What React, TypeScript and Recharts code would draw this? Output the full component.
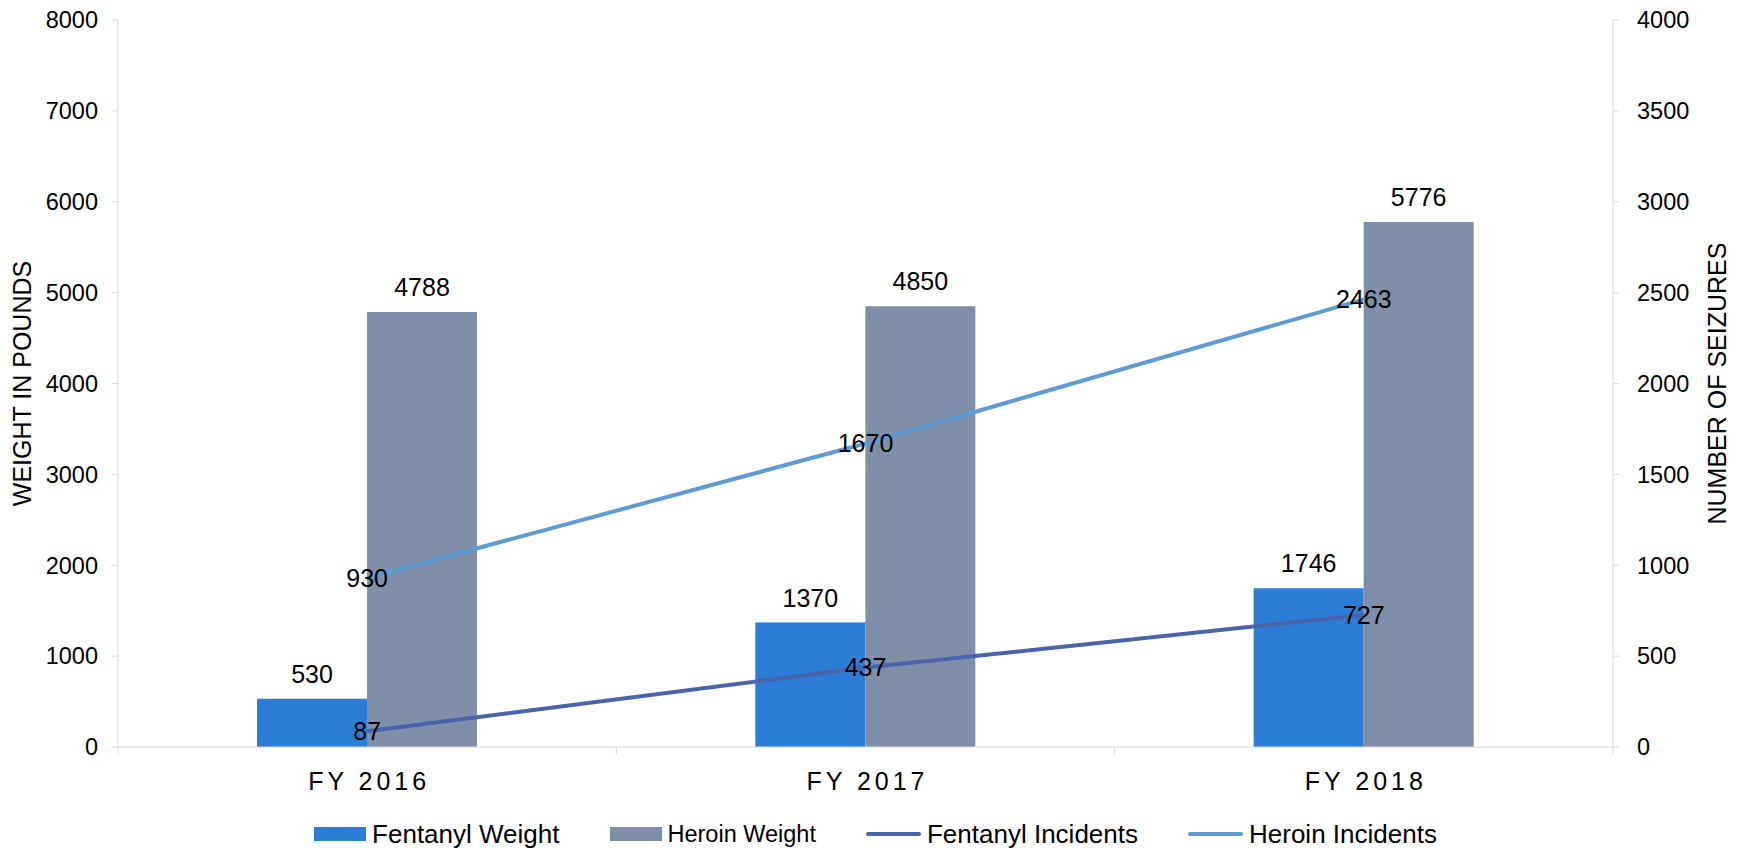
import React from 'react';
import { ComposedChart, Bar, Line, XAxis, YAxis, Legend, LabelList } from 'recharts';

const categories = ['FY 2016', 'FY 2017', 'FY 2018'];
const fentanylWeight = [530, 1370, 1746];
const heroinWeight = [4788, 4850, 5776];
const fentanylIncidents = [87, 437, 727];
const heroinIncidents = [930, 1670, 2463];
const leftTicks = [0, 1000, 2000, 3000, 4000, 5000, 6000, 7000, 8000];
const rightTicks = [0, 500, 1000, 1500, 2000, 2500, 3000, 3500, 4000];

const seriesNames = ['Fentanyl Weight', 'Heroin Weight', 'Fentanyl Incidents', 'Heroin Incidents'];
const seriesColors = ['#2B7DD6', '#7F8FA9', '#4964AB', '#5E9BD3'];
const seriesKinds = ['rect', 'rect', 'line', 'line'];
const legendFontSizes = [26, 23.5, 26, 26];

const data = categories.map((c, i) => ({
  name: c,
  fw: fentanylWeight[i],
  hw: heroinWeight[i],
  fi: fentanylIncidents[i],
  hi: heroinIncidents[i],
}));

const FONT = '"Liberation Sans", Arial, sans-serif';
const NARROW = '"Liberation Sans Narrow", "Arial Narrow", "Liberation Sans", sans-serif';
const AXIS = '#D9D9D9';

const XTick = (props: any) => {
  const { x, y, payload, index, visibleTicksCount } = props;
  const off = payload && payload.offset != null ? payload.offset : 249;
  const axisY = y - 7;
  return (
    <g>
      <line x1={x - off} x2={x - off} y1={axisY} y2={axisY + 7} stroke={AXIS} strokeWidth={1} />
      {index === visibleTicksCount - 1 && (
        <line x1={x + off} x2={x + off} y1={axisY} y2={axisY + 7} stroke={AXIS} strokeWidth={1} />
      )}
      <text x={x + 2} y={axisY + 43} textAnchor="middle" fontSize={25} letterSpacing={4} fill="#000" fontFamily={FONT}>
        {payload.value}
      </text>
    </g>
  );
};

const LegendContent = () => (
  <div
    style={{
      width: 1743,
      height: 40,
      boxSizing: 'border-box',
      paddingTop: 12,
      paddingLeft: 8,
      display: 'flex',
      alignItems: 'center',
      justifyContent: 'center',
      fontFamily: FONT,
      color: '#000',
    }}
  >
    {seriesNames.map((n, i) => (
      <div key={n} style={{ display: 'flex', alignItems: 'center', marginRight: i < seriesNames.length - 1 ? 50 : 0 }}>
        {seriesKinds[i] === 'rect' ? (
          <div style={{ width: 52, height: 14, background: seriesColors[i] }} />
        ) : (
          <div style={{ width: 55, height: 4, borderRadius: 2, background: seriesColors[i] }} />
        )}
        <span style={{ marginLeft: 6, fontSize: legendFontSizes[i], lineHeight: '28px', whiteSpace: 'nowrap' }}>{n}</span>
      </div>
    ))}
  </div>
);

export default function App() {
  return (
    <div style={{ position: 'absolute', left: 0, top: 0, width: 1743, height: 848, background: '#fff', fontFamily: FONT }}>
      <ComposedChart width={1743} height={848} data={data} margin={{ top: 20, right: 0, bottom: 0, left: 0 }} barGap={0}>
        <XAxis
          dataKey="name"
          xAxisId="x"
          height={61}
          tickSize={7}
          tickMargin={0}
          tickLine={false}
          axisLine={{ stroke: AXIS, strokeWidth: 1 }}
          tick={<XTick />}
          interval={0}
        />
        <YAxis
          yAxisId="left"
          orientation="left"
          width={118}
          domain={[0, 8000]}
          ticks={leftTicks}
          interval={0}
          tickSize={6}
          tickMargin={14}
          axisLine={{ stroke: AXIS, strokeWidth: 1 }}
          tickLine={{ stroke: AXIS, strokeWidth: 1 }}
          tick={{ fontSize: 23.5, fill: '#000', fontFamily: FONT }}
          label={{
            value: 'WEIGHT IN POUNDS',
            angle: -90,
            position: 'center',
            dx: -37,
            style: { fontSize: 25, fill: '#000', fontFamily: NARROW, textAnchor: 'middle' },
          }}
        />
        <YAxis
          yAxisId="right"
          orientation="right"
          width={130}
          domain={[0, 4000]}
          ticks={rightTicks}
          interval={0}
          tickSize={6}
          tickMargin={18}
          axisLine={{ stroke: AXIS, strokeWidth: 1 }}
          tickLine={{ stroke: AXIS, strokeWidth: 1 }}
          tick={{ fontSize: 23.5, fill: '#000', fontFamily: FONT }}
          label={{
            value: 'NUMBER OF SEIZURES',
            angle: -90,
            position: 'center',
            dx: 39,
            style: { fontSize: 25, fill: '#000', fontFamily: NARROW, textAnchor: 'middle' },
          }}
        />
        <Legend verticalAlign="bottom" align="center" content={<LegendContent />} wrapperStyle={{ left: 0, width: 1743 }} />
        <Bar dataKey="fw" name={seriesNames[0]} xAxisId="x" yAxisId="left" fill={seriesColors[0]} barSize={110} isAnimationActive={false}>
          <LabelList dataKey="fw" position="top" offset={16} style={{ fontSize: 25, fill: '#000', fontFamily: FONT }} />
        </Bar>
        <Bar dataKey="hw" name={seriesNames[1]} xAxisId="x" yAxisId="left" fill={seriesColors[1]} barSize={110} isAnimationActive={false}>
          <LabelList dataKey="hw" position="top" offset={16} style={{ fontSize: 25, fill: '#000', fontFamily: FONT }} />
        </Bar>
        <Line dataKey="fi" name={seriesNames[2]} xAxisId="x" yAxisId="right" stroke={seriesColors[2]} strokeWidth={4} dot={false} activeDot={false} isAnimationActive={false}>
          <LabelList dataKey="fi" position="center" style={{ fontSize: 25, fill: '#000', fontFamily: FONT }} />
        </Line>
        <Line dataKey="hi" name={seriesNames[3]} xAxisId="x" yAxisId="right" stroke={seriesColors[3]} strokeWidth={4} dot={false} activeDot={false} isAnimationActive={false}>
          <LabelList dataKey="hi" position="center" style={{ fontSize: 25, fill: '#000', fontFamily: FONT }} />
        </Line>
      </ComposedChart>
    </div>
  );
}
